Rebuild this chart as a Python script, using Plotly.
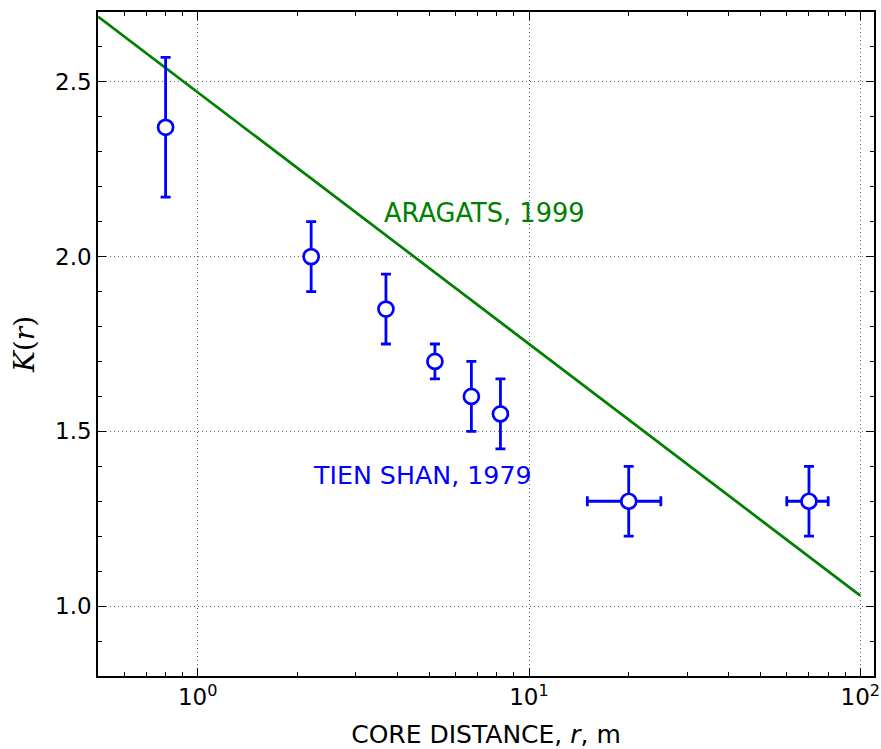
import plotly.graph_objects as go

# Tien Shan 1979 measurements
r_tien = [0.8, 2.2, 3.7, 5.2, 6.7, 8.2, 20, 70]
k_tien = [2.37, 2.0, 1.85, 1.70, 1.60, 1.55, 1.30, 1.30]
k_err = [0.20, 0.10, 0.10, 0.05, 0.10, 0.10, 0.10, 0.10]
r_err_plus = [0, 0, 0, 0, 0, 0, 5, 10]
r_err_minus = [0, 0, 0, 0, 0, 0, 5, 10]

# Aragats 1999 fit line (end points)
r_aragats = [0.5, 100]
k_aragats = [2.687, 1.03]

BLUE = "#0000ff"
GREEN = "#008000"
FONT = "DejaVu Sans"

fig = go.Figure()

fig.add_trace(go.Scatter(
    x=r_aragats, y=k_aragats, mode="lines",
    line=dict(color=GREEN, width=2.7), showlegend=False,
))

fig.add_trace(go.Scatter(
    x=r_tien, y=k_tien, mode="markers",
    marker=dict(symbol="circle", size=15, color="white",
                line=dict(color=BLUE, width=2.7)),
    error_y=dict(type="data", array=k_err, color=BLUE, thickness=2.8, width=5),
    error_x=dict(type="data", array=r_err_plus, arrayminus=r_err_minus,
                 color=BLUE, thickness=2.8, width=5),
    showlegend=False,
))

fig.add_annotation(x=0.555, y=2.124, xref="x", yref="y", text="ARAGATS, 1999",
                   showarrow=False, xanchor="left", yanchor="middle",
                   font=dict(family=FONT, size=25.7, color=GREEN))
fig.add_annotation(x=0.341, y=1.375, xref="x", yref="y", text="TIEN SHAN, 1979",
                   showarrow=False, xanchor="left", yanchor="middle",
                   font=dict(family=FONT, size=25.3, color=BLUE))

axis_common = dict(
    showline=True, linecolor="black", linewidth=1.5, mirror="ticks",
    ticks="inside", ticklen=8, tickwidth=1, tickcolor="black",
    showgrid=True, gridcolor="#666666", griddash="1px,3px", gridwidth=1,
    zeroline=False,
    tickfont=dict(family=FONT, size=23, color="black"),
)

fig.update_xaxes(
    type="log", range=[-0.301, 2.0414],
    tickvals=[1, 10, 100],
    ticktext=["10<sup>0</sup>", "10<sup>1</sup>", "10<sup>2</sup>"],
    minor=dict(ticks="inside", ticklen=4, tickcolor="black",
               tickvals=[0.5, 0.6, 0.7, 0.8, 0.9, 2, 3, 4, 5, 6, 7, 8, 9,
                         20, 30, 40, 50, 60, 70, 80, 90],
               showgrid=False),
    title=dict(text="CORE DISTANCE, <i>r</i>, m",
               font=dict(family=FONT, size=25, color="black"), standoff=16),
    automargin="height+bottom",
    **axis_common,
)
fig.update_yaxes(
    range=[0.8, 2.7],
    tickvals=[1.0, 1.5, 2.0, 2.5],
    ticktext=["1.0", "1.5", "2.0", "2.5"],
    minor=dict(ticks="inside", ticklen=4, tickcolor="black", dtick=0.1,
               showgrid=False),
    title=dict(text="<i>K</i>(<i>r</i>)",
               font=dict(family="DejaVu Serif", size=28, color="black"), standoff=12),
    automargin="width+left",
    **axis_common,
)

fig.update_layout(
    width=881, height=749,
    margin=dict(l=98, r=5, t=12, b=73),
    paper_bgcolor="white", plot_bgcolor="white",
    font=dict(family=FONT, size=23, color="black"),
)

fig.write_html("out.html")
